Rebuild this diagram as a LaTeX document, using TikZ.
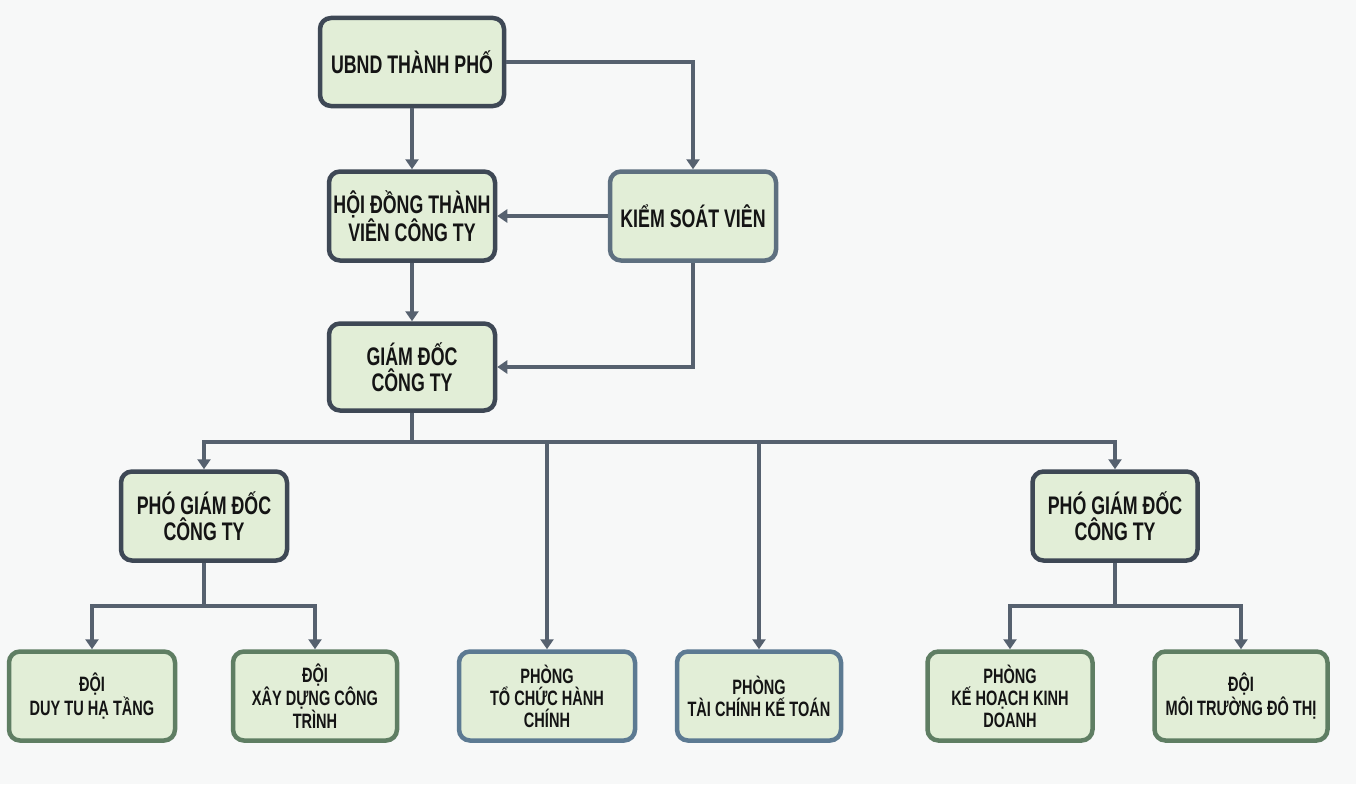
\documentclass[tikz,border=0pt]{standalone}
\usepackage{fontspec}
\setmainfont{Liberation Sans}[FakeStretch=0.70]
\usetikzlibrary{arrows.meta}
\definecolor{bgc}{HTML}{F7F8F8}
\definecolor{darkb}{HTML}{3E4855}
\definecolor{kb}{HTML}{5E7080}
\definecolor{greenb}{HTML}{5F7E63}
\definecolor{blueb}{HTML}{5C7A92}
\definecolor{fillc}{HTML}{E2EED7}
\definecolor{linec}{HTML}{56616F}
\definecolor{txt}{HTML}{141414}
\tikzset{
  box/.style={draw, line width=4.5pt, rounded corners=11pt, fill=fillc, text=txt,
    align=center, inner sep=0pt},
  bigbox/.style={box, font=\fontsize{25.4}{26.5}\selectfont\bfseries},
  smallbox/.style={box, font=\fontsize{20.8}{22}\selectfont\bfseries,
    minimum height=89pt},
  wire/.style={draw=linec, line width=4pt},
  conn/.style={wire, -{Triangle[length=10pt,width=13pt]}},
}
\begin{document}
\begin{tikzpicture}[x=1pt,y=1pt]
\fill[bgc] (0,0) rectangle (1356,-784);
\useasboundingbox (0,0) rectangle (1356,-784);
% top levels
\node[bigbox, draw=darkb, minimum width=184pt, minimum height=88pt] (ubnd) at (412,-62) {UBND THÀNH PHỐ};
\node[bigbox, draw=darkb, minimum width=166pt, minimum height=89pt] (hdtv) at (412,-216) {HỘI ĐỒNG THÀNH\\VIÊN CÔNG TY};
\node[bigbox, draw=kb, minimum width=166pt, minimum height=89pt] (ksv) at (693,-216) {KIỂM SOÁT VIÊN};
\node[bigbox, draw=darkb, minimum width=166pt, minimum height=87pt] (gd) at (412,-367) {GIÁM ĐỐC\\CÔNG TY};
\node[bigbox, draw=darkb, minimum width=166pt, minimum height=89pt] (pgd1) at (204,-516) {PHÓ GIÁM ĐỐC\\CÔNG TY};
\node[bigbox, draw=darkb, minimum width=165pt, minimum height=89pt] (pgd2) at (1115,-516) {PHÓ GIÁM ĐỐC\\CÔNG TY};
% bottom
\node[smallbox, draw=greenb, minimum width=166pt] (d1) at (92,-696) {ĐỘI\\DUY TU HẠ TẦNG};
\node[smallbox, draw=greenb, minimum width=164pt] (d2) at (315,-696) {ĐỘI\\XÂY DỰNG CÔNG\\TRÌNH};
\node[smallbox, draw=blueb, minimum width=176pt] (p1) at (547,-696) {PHÒNG\\TỔ CHỨC HÀNH\\CHÍNH};
\node[smallbox, draw=blueb, minimum width=164pt] (p2) at (759,-696) {PHÒNG\\TÀI CHÍNH KẾ TOÁN};
\node[smallbox, draw=greenb, minimum width=165pt] (p3) at (1010,-696) {PHÒNG\\KẾ HOẠCH KINH\\DOANH};
\node[smallbox, draw=greenb, minimum width=173pt] (d3) at (1241,-696) {ĐỘI\\MÔI TRƯỜNG ĐÔ THỊ};
% coordinates
\coordinate (bus) at (412,-442);
\coordinate (busL) at (204,-606);
\coordinate (busR) at (1115,-606);
% connectors
\draw[conn] (ubnd.south) -- (hdtv.north);
\draw[conn] (ubnd.east) -| (ksv.north);
\draw[conn] (ksv.west) -- (hdtv.east);
\draw[conn] (hdtv.south) -- (gd.north);
\draw[conn] (ksv.south) |- (gd.east);
\draw[wire] (gd.south) -- (bus);
\draw[conn] (bus) -| (pgd1.north);
\draw[conn] (bus) -| (pgd2.north);
\draw[conn] (bus) -| (p1.north);
\draw[conn] (bus) -| (p2.north);
\draw[wire] (pgd1.south) -- (busL);
\draw[conn] (busL) -| (d1.north);
\draw[conn] (busL) -| (d2.north);
\draw[wire] (pgd2.south) -- (busR);
\draw[conn] (busR) -| (p3.north);
\draw[conn] (busR) -| (d3.north);
\end{tikzpicture}
\end{document}
